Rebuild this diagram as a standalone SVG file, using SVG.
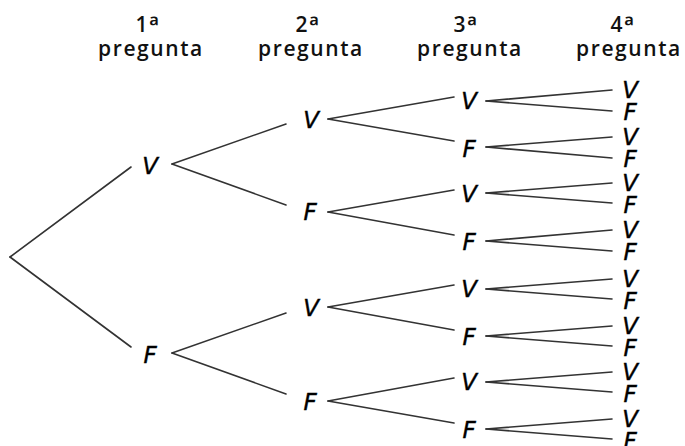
<svg xmlns="http://www.w3.org/2000/svg" width="685" height="446" viewBox="0 0 685 446">
<style>
.h{font-family:"Open Sans","DejaVu Sans",sans-serif;font-weight:600;font-size:21px;fill:#111;text-anchor:middle;letter-spacing:1.6px}
.o{font-size:26px}
.n{font-family:"DejaVu Sans",sans-serif;font-style:italic;font-size:23px;fill:#000;stroke:#000;stroke-width:0.4;text-anchor:middle}
.c line{stroke:#333;stroke-width:1.6;stroke-linecap:round}
</style>
<rect width="685" height="446" fill="#fff"/>
<g id="headers">
<text class="h" x="148" y="32">1<tspan class="o" dy="3">ª</tspan></text><text class="h" x="151" y="56">pregunta</text>
<text class="h" x="308" y="32">2<tspan class="o" dy="3">ª</tspan></text><text class="h" x="311" y="56">pregunta</text>
<text class="h" x="466" y="32">3<tspan class="o" dy="3">ª</tspan></text><text class="h" x="470" y="56">pregunta</text>
<text class="h" x="623" y="32">4<tspan class="o" dy="3">ª</tspan></text><text class="h" x="629" y="56">pregunta</text>
</g>
<g id="connectors" class="c">
<line x1="10" y1="257" x2="131" y2="167"/><line x1="10" y1="257" x2="131" y2="347"/>
<line x1="172" y1="164" x2="286" y2="124"/><line x1="172" y1="164" x2="286" y2="205"/>
<line x1="172" y1="353" x2="286" y2="313"/><line x1="172" y1="353" x2="286" y2="394"/>
<line x1="328" y1="119" x2="454" y2="97"/><line x1="328" y1="119" x2="454" y2="141"/>
<line x1="328" y1="212" x2="454" y2="190"/><line x1="328" y1="212" x2="454" y2="235"/>
<line x1="328" y1="307" x2="454" y2="285"/><line x1="328" y1="307" x2="454" y2="330"/>
<line x1="328" y1="401" x2="454" y2="378"/><line x1="328" y1="401" x2="454" y2="423"/>
<line x1="486" y1="101" x2="612" y2="90"/><line x1="486" y1="101" x2="612" y2="111"/>
<line x1="486" y1="147" x2="612" y2="137"/><line x1="486" y1="147" x2="612" y2="158"/>
<line x1="486" y1="193" x2="612" y2="183"/><line x1="486" y1="193" x2="612" y2="203"/>
<line x1="486" y1="241" x2="612" y2="230"/><line x1="486" y1="241" x2="612" y2="251"/>
<line x1="486" y1="289" x2="612" y2="279"/><line x1="486" y1="289" x2="612" y2="299"/>
<line x1="486" y1="336" x2="612" y2="326"/><line x1="486" y1="336" x2="612" y2="346"/>
<line x1="486" y1="382" x2="612" y2="372"/><line x1="486" y1="382" x2="612" y2="392"/>
<line x1="486" y1="429" x2="612" y2="419"/><line x1="486" y1="429" x2="612" y2="439"/>
</g>
<g id="n1V"><text class="n" x="150" y="174">V</text></g>
<g id="n1F"><text class="n" x="150" y="363">F</text></g>
<g id="n2VV"><text class="n" x="311" y="128">V</text></g>
<g id="n2VF"><text class="n" x="310" y="220">F</text></g>
<g id="n2FV"><text class="n" x="311" y="316">V</text></g>
<g id="n2FF"><text class="n" x="310" y="410">F</text></g>
<g id="n3a"><text class="n" x="469" y="109">V</text></g>
<g id="n3b"><text class="n" x="469" y="157">F</text></g>
<g id="n3c"><text class="n" x="469" y="202">V</text></g>
<g id="n3d"><text class="n" x="469" y="250">F</text></g>
<g id="n3e"><text class="n" x="469" y="297">V</text></g>
<g id="n3f"><text class="n" x="469" y="345">F</text></g>
<g id="n3g"><text class="n" x="469" y="390">V</text></g>
<g id="n3h"><text class="n" x="469" y="438">F</text></g>
<g id="n4a1"><text class="n" x="630" y="98">V</text></g>
<g id="n4a2"><text class="n" x="630" y="120">F</text></g>
<g id="n4b1"><text class="n" x="630" y="145">V</text></g>
<g id="n4b2"><text class="n" x="630" y="167">F</text></g>
<g id="n4c1"><text class="n" x="630" y="191">V</text></g>
<g id="n4c2"><text class="n" x="630" y="213">F</text></g>
<g id="n4d1"><text class="n" x="630" y="238">V</text></g>
<g id="n4d2"><text class="n" x="630" y="260">F</text></g>
<g id="n4e1"><text class="n" x="630" y="287">V</text></g>
<g id="n4e2"><text class="n" x="630" y="309">F</text></g>
<g id="n4f1"><text class="n" x="630" y="334">V</text></g>
<g id="n4f2"><text class="n" x="630" y="356">F</text></g>
<g id="n4g1"><text class="n" x="630" y="380">V</text></g>
<g id="n4g2"><text class="n" x="630" y="402">F</text></g>
<g id="n4h1"><text class="n" x="630" y="427">V</text></g>
<g id="n4h2"><text class="n" x="630" y="449">F</text></g>
</svg>
